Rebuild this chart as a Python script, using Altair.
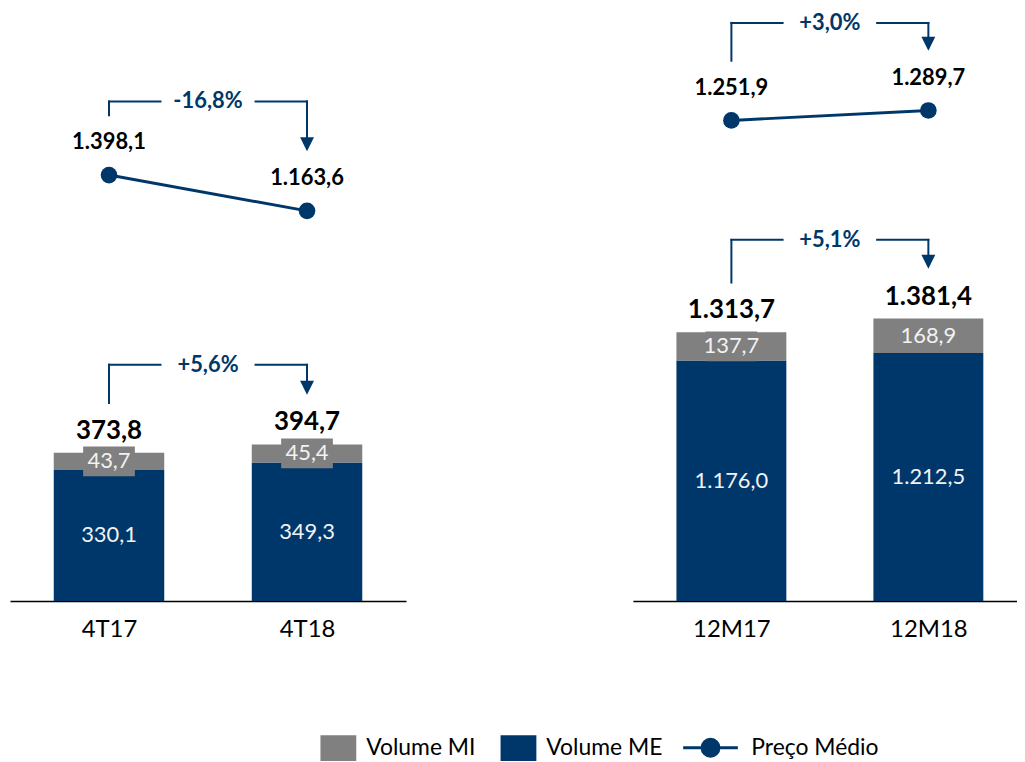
import json
import altair as alt
import pandas as pd

# ---------------- data ----------------
cats_q = ["4T17", "4T18"]
me_q = [330.1, 349.3]
mi_q = [43.7, 45.4]
price_q = [1398.1, 1163.6]
vol_pct_q = "+5,6%"
price_pct_q = "-16,8%"

cats_y = ["12M17", "12M18"]
me_y = [1176.0, 1212.5]
mi_y = [137.7, 168.9]
price_y = [1251.9, 1289.7]
vol_pct_y = "+5,1%"
price_pct_y = "+3,0%"

series_names = ["Volume MI", "Volume ME"]
line_name = "Preço Médio"

# ---------------- style ----------------
NAVY = "#00376B"
GRAY = "#808080"
LIGHT = "#F2F2F2"
FONT = "Lato"
H = 591
HW = 0.279          # half bar width in x units
GAP = 0.24          # half gap around the % text in x units
RECT_SYMBOL = "M-1,-0.72H1V0.72H-1Z"
TRI = "M-1,-1L1,-1L0,1Z"


def ring(r):
    return f"M{-r},0A{r},{r},0,1,0,{r},0A{r},{r},0,1,0,{-r},0"


# line with a filled-looking marker, drawn with strokes only (legend symbol)
LINE_SYMBOL = "M-2.75,0H2.75" + "".join(ring(r) for r in [0.15, 0.3, 0.45, 0.6, 0.75, 0.85])


def br(v, d=1):
    s = f"{v:,.{d}f}"
    return s.replace(",", "X").replace(".", ",").replace("X", ".")


def bracket_frames(v0, v1, k, leg_off, top_off, pct):
    bottom = v0 + leg_off / k
    tip = v1 + leg_off / k
    top = max(v0, v1) + top_off / k
    base = tip + 12 / k
    rules = pd.DataFrame({
        "x": [0, 0, 0.5 + GAP, 1],
        "x2": [0, 0.5 - GAP, 1, 1],
        "y": [bottom, top, top, top],
        "y2": [top, top, top, base],
    })
    tri = pd.DataFrame({"x": [1], "y": [tip + 7 / k]})
    txt = pd.DataFrame({"x": [0.5], "y": [top], "t": [pct]})
    return rules, tri, txt


def panel(cats, me, mi, price, vol_pct, price_pct, W, xdom, vdom, pdom, vtop, ptop):
    unit = W / (xdom[1] - xdom[0])
    kv = H / (vdom[1] - vdom[0])
    kp = H / (pdom[1] - pdom[0])
    idx = [0, 1]
    totals = [round(a + b, 1) for a, b in zip(me, mi)]

    xs = alt.Scale(domain=xdom, nice=False, zero=False)
    vs = alt.Scale(domain=vdom, nice=False, zero=False)
    ps = alt.Scale(domain=pdom, nice=False, zero=False)

    xaxis = alt.Axis(
        values=[0, 1], labelExpr=f"{json.dumps(cats)}[datum.value]", title=None,
        ticks=False, grid=False, domainColor="#000000", domainWidth=1.5,
        labelFont=FONT, labelFontSize=24, labelColor="#000000", labelPadding=17,
        labelAngle=0,
    )

    def X(field):
        return alt.X(field, scale=xs, axis=xaxis, title=None)

    bars = pd.DataFrame({
        "i": idx * 2,
        "series": ["Volume ME"] * 2 + ["Volume MI"] * 2,
        "y0": [0.0, 0.0] + me,
        "y1": me + totals,
        "label": [br(v) for v in me + mi],
    })
    bars["xa"] = bars["i"] - HW
    bars["xb"] = bars["i"] + HW
    bars["mid"] = (bars["y0"] + bars["y1"]) / 2
    small = bars[(bars["y1"] - bars["y0"]) * kv < 30].copy()
    small["bxa"] = small["i"] - 26 / unit
    small["bxb"] = small["i"] + 26 / unit
    small["bya"] = small["mid"] - 15 / kv
    small["byb"] = small["mid"] + 15 / kv

    tot = pd.DataFrame({"i": idx, "total": totals, "label": [br(v) for v in totals]})

    bar_layer = alt.Chart(bars).mark_rect().encode(
        x=X("xa:Q"),
        x2="xb:Q",
        y=alt.Y("y0:Q", scale=vs, axis=None),
        y2="y1:Q",
        color=alt.Color(
            "series:N",
            scale=alt.Scale(domain=series_names, range=[GRAY, NAVY]),
            legend=alt.Legend(
                orient="none", legendX=312, legendY=721, direction="horizontal",
                title=None, symbolType=RECT_SYMBOL, symbolSize=1296,
                symbolStrokeWidth=0, labelFont=FONT, labelFontSize=23,
                labelColor="#000000", labelOffset=10, columnPadding=25,
                labelLimit=300, padding=0,
            ),
        ),
    )
    layers_v = [bar_layer]
    if len(small):
        layers_v.append(
            alt.Chart(small).mark_rect(color=GRAY).encode(
                x=X("bxa:Q"), x2="bxb:Q",
                y=alt.Y("bya:Q", scale=vs, axis=None), y2="byb:Q",
            )
        )
    layers_v.append(
        alt.Chart(bars).mark_text(font=FONT, fontSize=22, color=LIGHT, baseline="middle").encode(
            x=X("i:Q"),
            y=alt.Y("mid:Q", scale=vs, axis=None),
            text="label:N",
        )
    )
    layers_v.append(
        alt.Chart(tot).mark_text(font=FONT, fontSize=26, fontWeight="bold", color="#000000",
                                 baseline="middle", dy=-22).encode(
            x=X("i:Q"),
            y=alt.Y("total:Q", scale=vs, axis=None),
            text="label:N",
        )
    )
    r, t, tx = bracket_frames(totals[0], totals[1], kv, 50, vtop, vol_pct)
    layers_v += [
        alt.Chart(r).mark_rule(color=NAVY, strokeWidth=2, strokeCap="square").encode(
            x=X("x:Q"), x2="x2:Q",
            y=alt.Y("y:Q", scale=vs, axis=None), y2="y2:Q",
        ),
        alt.Chart(t).mark_point(shape=TRI, filled=True, size=196, color=NAVY, opacity=1).encode(
            x=X("x:Q"),
            y=alt.Y("y:Q", scale=vs, axis=None),
        ),
        alt.Chart(tx).mark_text(font=FONT, fontSize=22, fontWeight="bold", color=NAVY,
                                baseline="middle").encode(
            x=X("x:Q"),
            y=alt.Y("y:Q", scale=vs, axis=None),
            text="t:N",
        ),
    ]
    vol_layer = alt.layer(*layers_v)

    pr = pd.DataFrame({"i": idx, "price": price, "label": [br(v) for v in price],
                       "name": [line_name] * 2})
    r2, t2, tx2 = bracket_frames(price[0], price[1], kp, 60, ptop, price_pct)
    price_layer = alt.layer(
        alt.Chart(r2).mark_rule(color=NAVY, strokeWidth=2, strokeCap="square").encode(
            x=X("x:Q"), x2="x2:Q",
            y=alt.Y("y:Q", scale=ps, axis=None), y2="y2:Q",
        ),
        alt.Chart(t2).mark_point(shape=TRI, filled=True, size=196, color=NAVY, opacity=1).encode(
            x=X("x:Q"),
            y=alt.Y("y:Q", scale=ps, axis=None),
        ),
        alt.Chart(tx2).mark_text(font=FONT, fontSize=22, fontWeight="bold", color=NAVY,
                                 baseline="middle").encode(
            x=X("x:Q"),
            y=alt.Y("y:Q", scale=ps, axis=None),
            text="t:N",
        ),
        alt.Chart(pr).mark_line(strokeWidth=3).encode(
            x=X("i:Q"),
            y=alt.Y("price:Q", scale=ps, axis=None),
            stroke=alt.Stroke(
                "name:N",
                scale=alt.Scale(domain=[line_name], range=[NAVY]),
                legend=alt.Legend(
                    orient="none", legendX=692.5, legendY=727, title=None,
                    symbolType=LINE_SYMBOL, symbolSize=400, symbolStrokeWidth=3,
                    symbolOpacity=1, labelFont=FONT, labelFontSize=23,
                    labelColor="#000000", labelOffset=29.5, padding=0, labelLimit=300,
                ),
            ),
        ),
        alt.Chart(pr).mark_point(shape="circle", filled=True, size=280, color=NAVY,
                                 opacity=1).encode(
            x=X("i:Q"),
            y=alt.Y("price:Q", scale=ps, axis=None),
        ),
        alt.Chart(pr).mark_text(font=FONT, fontSize=22, fontWeight="bold", color="#000000",
                                baseline="middle", dy=-33).encode(
            x=X("i:Q"),
            y=alt.Y("price:Q", scale=ps, axis=None),
            text="label:N",
        ),
    )
    return alt.layer(vol_layer, price_layer).resolve_scale(y="independent").properties(
        width=W, height=H
    )


left = panel(cats_q, me_q, mi_q, price_q, vol_pct_q, price_pct_q,
             398, [-0.5, 1.5], [0, 1483], [-1390, 2460], 80, 74)
right = panel(cats_y, me_y, mi_y, price_y, vol_pct_y, price_pct_y,
              386, [-0.5, 1.45], [0, 2876], [-571, 1660], 79, 88)

chart = alt.hconcat(left, right, spacing=228, bounds="flush").properties(
    padding={"left": 2, "top": 2, "right": 0, "bottom": 0}
).configure_view(stroke=None)

chart.save("out.html", embed_options={"renderer": "svg", "actions": False})
